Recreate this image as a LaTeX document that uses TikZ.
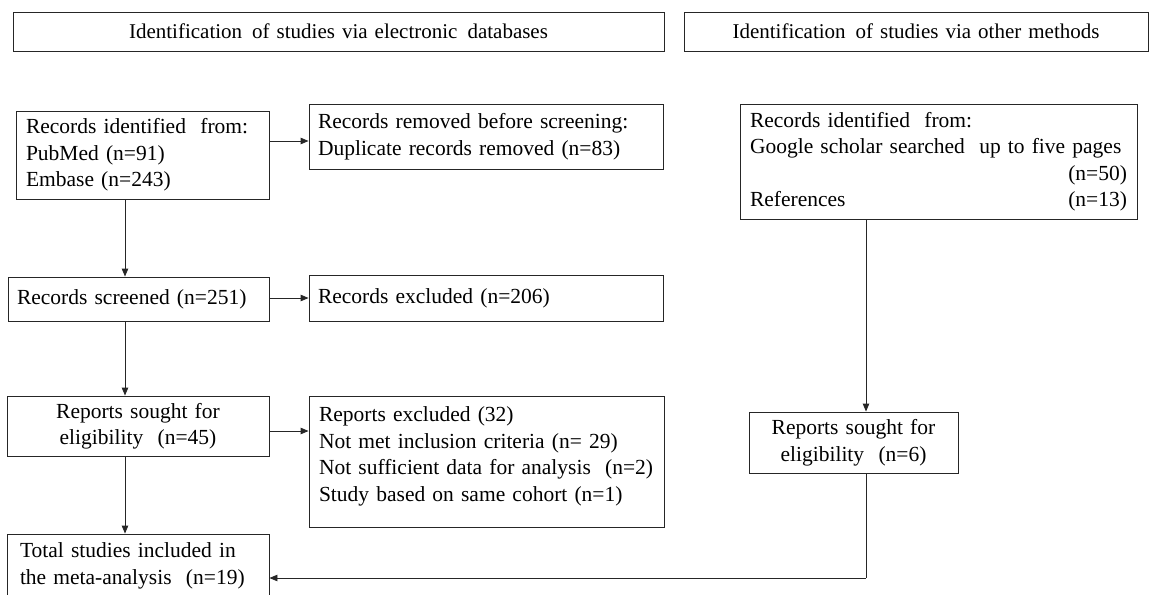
\documentclass[tikz,border=0pt]{standalone}
\usepackage{fontspec}
\setmainfont{Liberation Serif}
\usetikzlibrary{arrows.meta}
\begin{document}
\begin{tikzpicture}[x=1pt,y=-1pt,
  box/.style={draw=black!85, line width=0.9pt, inner ysep=0pt,
    font=\fontsize{21.5}{26.5}\selectfont, anchor=center},
  lbox/.style={box, align=left},
  cbox/.style={box, align=center},
  hbox/.style={cbox, font=\fontsize{21}{26}\selectfont},
  arr/.style={draw=black!85, line width=0.9pt, -{Triangle[length=8pt,width=6.5pt]}},
  ln/.style={draw=black!85, line width=0.9pt}]
\useasboundingbox (0,0) rectangle (1150,594);

% headers
\node[hbox, text width=651pt, inner xsep=0pt, minimum height=39pt] (H1) at (338.5,31.5)
  {Identification\hspace{3pt} of studies via electronic\hspace{3pt} databases};
\node[hbox, text width=464pt, inner xsep=0pt, minimum height=39pt] (H2) at (916,31.5)
  {Identification\hspace{3pt} of studies via other methods};

% left column
\node[lbox, text width=233pt, inner xsep=10pt, minimum height=88pt] (A) at (142.5,155)
  {Records identified\ \ from:\\PubMed (n=91)\\Embase (n=243)};
\node[lbox, text width=336pt, inner xsep=9pt, minimum height=65pt] (B) at (486,136.5)
  {Records removed before screening:\\Duplicate records removed (n=83)};
\node[lbox, text width=243pt, inner xsep=9pt, minimum height=44pt] (S) at (138.5,299)
  {Records screened (n=251)};
\node[lbox, text width=336pt, inner xsep=9pt, minimum height=46pt] (E) at (486,298)
  {Records excluded (n=206)};
\node[cbox, text width=262pt, inner xsep=0pt, minimum height=60pt] (R) at (138,426)
  {Reports sought for\\eligibility\ \ (n=45)};
\node[lbox, text width=335pt, inner xsep=10pt, minimum height=131pt] (X) at (486.5,461.5)
  {Reports excluded (32)\\Not met inclusion criteria (n= 29)\\Not sufficient data for analysis\ \ (n=2)\\Study based on same cohort (n=1)\vspace*{10pt}};
\node[lbox, text width=236pt, inner xsep=13pt, minimum height=64pt] (T) at (138,566)
  {Total studies included in\\the meta-analysis\ \ (n=19)};

% right column
\node[lbox, text width=377pt, inner xsep=10pt, minimum height=115pt] (O) at (938.5,161.5)
  {Records identified\ \ from:\\Google scholar searched\ \ up to five pages\\\mbox{}\hfill(n=50)\\References\hfill(n=13)};
\node[cbox, text width=209pt, inner xsep=0pt, minimum height=61pt] (RS) at (853.5,442.5)
  {Reports sought for\\eligibility\ \ (n=6)};

% helper coordinates
\coordinate (xL) at (125,0);
\coordinate (xR) at (866,0);
\coordinate (yAB) at (0,141);
\coordinate (ySE) at (0,298);
\coordinate (yRX) at (0,431);
\coordinate (corner) at (866,578);

% connectors
\draw[arr] (A.east |- yAB) -- (B.west |- yAB);
\draw[arr] (A.south -| xL) -- (S.north -| xL);
\draw[arr] (S.east |- ySE) -- (E.west |- ySE);
\draw[arr] (S.south -| xL) -- (R.north -| xL);
\draw[arr] (R.east |- yRX) -- (X.west |- yRX);
\draw[arr] (R.south -| xL) -- (T.north -| xL);
\draw[arr] (O.south -| xR) -- (RS.north -| xR);
\draw[ln] (RS.south -| xR) -- (corner);
\draw[arr] (corner) -- (T.east |- corner);
\end{tikzpicture}
\end{document}
